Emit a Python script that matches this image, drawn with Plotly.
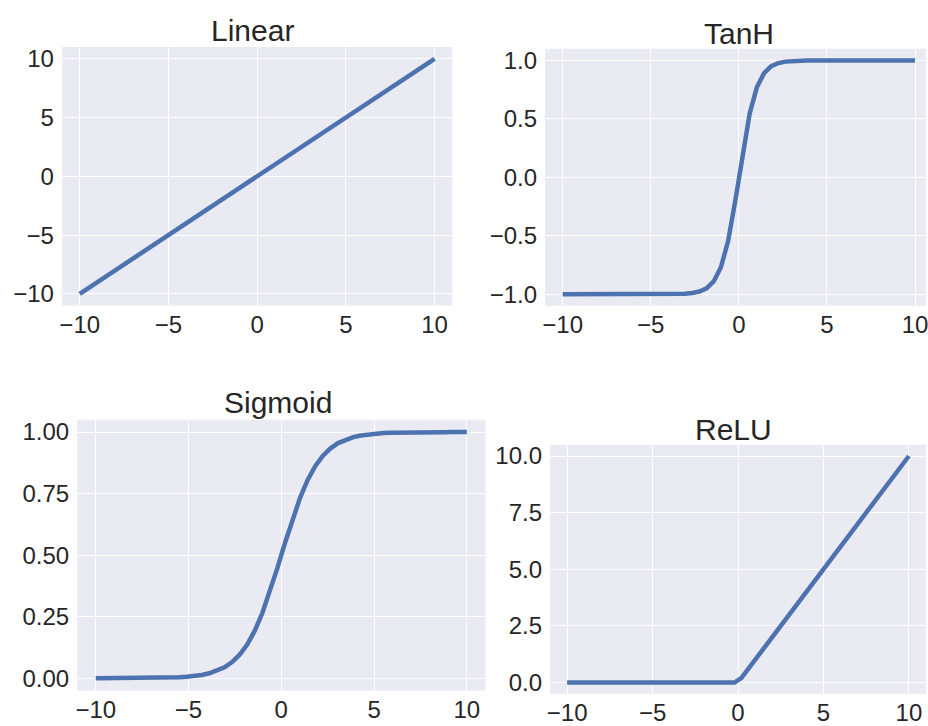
import plotly.graph_objects as go

# x samples (50 points between -10 and 10)
x_vals = [-10.0, -9.592, -9.184, -8.776, -8.367, -7.959, -7.551, -7.143, -6.735, -6.327,
          -5.918, -5.51, -5.102, -4.694, -4.286, -3.878, -3.469, -3.061, -2.653, -2.245,
          -1.837, -1.429, -1.02, -0.612, -0.204, 0.204, 0.612, 1.02, 1.429, 1.837,
          2.245, 2.653, 3.061, 3.469, 3.878, 4.286, 4.694, 5.102, 5.51, 5.918,
          6.327, 6.735, 7.143, 7.551, 7.959, 8.367, 8.776, 9.184, 9.592, 10.0]

linear_y = [-10.0, -9.592, -9.184, -8.776, -8.367, -7.959, -7.551, -7.143, -6.735, -6.327,
            -5.918, -5.51, -5.102, -4.694, -4.286, -3.878, -3.469, -3.061, -2.653, -2.245,
            -1.837, -1.429, -1.02, -0.612, -0.204, 0.204, 0.612, 1.02, 1.429, 1.837,
            2.245, 2.653, 3.061, 3.469, 3.878, 4.286, 4.694, 5.102, 5.51, 5.918,
            6.327, 6.735, 7.143, 7.551, 7.959, 8.367, 8.776, 9.184, 9.592, 10.0]

tanh_y = [-1.0, -1.0, -1.0, -1.0, -1.0, -1.0, -1.0, -1.0, -1.0, -1.0,
          -1.0, -1.0, -0.9999, -0.9998, -0.9996, -0.9991, -0.9981, -0.9956, -0.9901, -0.9778,
          -0.9505, -0.8914, -0.7701, -0.5455, -0.2013, 0.2013, 0.5455, 0.7701, 0.8914, 0.9505,
          0.9778, 0.9901, 0.9956, 0.9981, 0.9991, 0.9996, 0.9998, 0.9999, 1.0, 1.0,
          1.0, 1.0, 1.0, 1.0, 1.0, 1.0, 1.0, 1.0, 1.0, 1.0]

sigmoid_y = [0.00005, 0.00007, 0.0001, 0.00015, 0.00023, 0.00035, 0.00053, 0.00079, 0.0012, 0.0018,
             0.0027, 0.004, 0.006, 0.0091, 0.0136, 0.0203, 0.0302, 0.0447, 0.0658, 0.0957,
             0.1374, 0.1933, 0.265, 0.3516, 0.4492, 0.5508, 0.6484, 0.735, 0.8067, 0.8626,
             0.9043, 0.9342, 0.9553, 0.9698, 0.9797, 0.9864, 0.9909, 0.994, 0.996, 0.9973,
             0.9982, 0.9988, 0.9992, 0.9995, 0.9997, 0.9998, 0.9998, 0.9999, 0.9999, 1.0]

relu_y = [0.0, 0.0, 0.0, 0.0, 0.0, 0.0, 0.0, 0.0, 0.0, 0.0,
          0.0, 0.0, 0.0, 0.0, 0.0, 0.0, 0.0, 0.0, 0.0, 0.0,
          0.0, 0.0, 0.0, 0.0, 0.0, 0.204, 0.612, 1.02, 1.429, 1.837,
          2.245, 2.653, 3.061, 3.469, 3.878, 4.286, 4.694, 5.102, 5.51, 5.918,
          6.327, 6.735, 7.143, 7.551, 7.959, 8.367, 8.776, 9.184, 9.592, 10.0]

titles = ["Linear", "TanH", "Sigmoid", "ReLU"]
x_ticks = [-10, -5, 0, 5, 10]
linear_ticks = [-10, -5, 0, 5, 10]
tanh_ticks = [-1.0, -0.5, 0.0, 0.5, 1.0]
sigmoid_ticks = [0.0, 0.25, 0.5, 0.75, 1.0]
relu_ticks = [0.0, 2.5, 5.0, 7.5, 10.0]

W, H = 928, 726
LINE = "#4C72B0"
BG = "#EAEAF2"
TXT = "#262626"
FONT = "Liberation Sans, Arial, sans-serif"

def px_x(a, b):
    return [a / W, b / W]

def px_y(top, bottom):
    return [1 - bottom / H, 1 - top / H]

fig = go.Figure()
series = [linear_y, tanh_y, sigmoid_y, relu_y]
for i, ys in enumerate(series):
    sfx = "" if i == 0 else str(i + 1)
    fig.add_trace(go.Scatter(x=x_vals, y=ys, mode="lines",
                             line=dict(color=LINE, width=4.5),
                             xaxis="x" + sfx, yaxis="y" + sfx, showlegend=False,
                             hoverinfo="skip"))

axis_common = dict(showgrid=True, gridcolor="white", gridwidth=1.2, zeroline=False,
                   showline=False, ticks="", tickfont=dict(size=24, color=TXT, family=FONT),
                   fixedrange=True, ticklabeloverflow="allow")

domains = [
    (px_x(59.3, 451.7), px_y(45.7, 308.3), [-11, 11], [-11, 11], linear_ticks, "d"),
    (px_x(545, 928), px_y(47.5, 308.5), [-11, 10.62], [-1.1, 1.1], tanh_ticks, ".1f"),
    (px_x(74.6, 485), px_y(424.2, 699.2), [-11, 11], [-0.05, 1.05], sigmoid_ticks, ".2f"),
    (px_x(550, 928), px_y(449.5, 702.5), [-11, 11], [-0.5, 10.5], relu_ticks, ".1f"),
]

layout = dict(width=W, height=H, margin=dict(l=0, r=0, t=0, b=0),
              paper_bgcolor="white", plot_bgcolor=BG, showlegend=False)
for i, (dx, dy, xr, yr, yt, fmt) in enumerate(domains):
    sfx = "" if i == 0 else str(i + 1)
    layout["xaxis" + sfx] = dict(axis_common, domain=dx, range=xr, tickvals=x_ticks,
                                 anchor="y" + sfx, ticklabelstandoff=2)
    layout["yaxis" + sfx] = dict(axis_common, domain=dy, range=yr, tickvals=yt,
                                 tickformat=fmt, anchor="x" + sfx, ticklabelstandoff=7)

fig.update_layout(**layout)

# subplot titles (x centre px, cap-centre px)
title_pos = [(251, 29), (740, 31.7), (276, 407), (734, 434)]
for t, (cx, cy) in zip(titles, title_pos):
    fig.add_annotation(text=t, x=cx / W, y=1 - cy / H, xref="paper", yref="paper",
                       xanchor="center", yanchor="middle", showarrow=False,
                       font=dict(size=30, color=TXT, family=FONT))

fig.write_html("out.html", config={"displayModeBar": False},
               post_script="document.body.style.margin='0';document.body.style.padding='0';")
